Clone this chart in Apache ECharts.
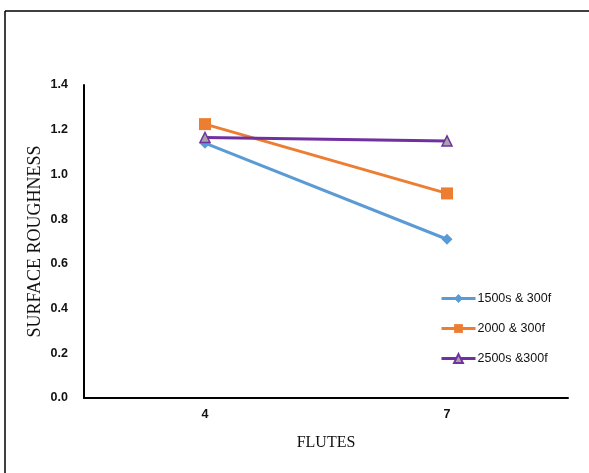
<!DOCTYPE html>
<html>
<head>
<meta charset="utf-8">
<script src="https://cdn.jsdelivr.net/npm/echarts@6/dist/echarts.min.js"></script>
<style>
  html, body { margin: 0; padding: 0; background: #fff; }
  #chart { width: 589px; height: 473px; }
</style>
</head>
<body>
<div id="chart"></div>
<script>
const flutes = ['4', '7']
const s1500 = [1.14, 0.71]
const s2000 = [1.225, 0.915]
const s2500 = [1.165, 1.15]
const yTicks = [0, 0.2, 0.4, 0.6, 0.8, 1.0, 1.2, 1.4]

const chart = echarts.init(document.getElementById('chart'))
const tickFont = { fontFamily: 'Liberation Sans Narrow, Liberation Sans, sans-serif', fontWeight: 'bold', fontSize: 12.5, color: '#111' }

chart.setOption({
  animation: false,
  graphic: [
    { type: 'line', shape: { x1: 5, y1: 11, x2: 589, y2: 11 }, style: { stroke: '#000', lineWidth: 1.5 } },
    { type: 'line', shape: { x1: 5, y1: 11, x2: 5, y2: 473 }, style: { stroke: '#000', lineWidth: 1.5 } }
  ],
  grid: { left: 84, right: 21, top: 85, bottom: 75 },
  legend: {
    orient: 'vertical',
    left: 440,
    top: 292,
    padding: 0,
    itemWidth: 34,
    itemHeight: 11,
    itemGap: 17,
    lineStyle: { width: 3 },
    textStyle: { fontFamily: 'Liberation Sans Narrow, Liberation Sans, sans-serif', fontSize: 12.5, color: '#111', padding: [0, 0, 0, -3] },
    data: ['1500s & 300f', '2000 & 300f', '2500s &300f']
  },
  xAxis: {
    type: 'category',
    data: flutes,
    name: 'FLUTES',
    nameLocation: 'middle',
    nameGap: 37,
    nameTextStyle: { fontFamily: 'Liberation Serif, serif', fontSize: 16, color: '#111' },
    axisLine: { lineStyle: { color: '#000', width: 2 } },
    axisTick: { show: false },
    axisLabel: Object.assign({ margin: 10 }, tickFont)
  },
  yAxis: {
    type: 'value',
    min: 0,
    max: 1.4,
    interval: 0.2,
    name: 'SURFACE ROUGHNESS',
    nameLocation: 'middle',
    nameGap: 40,
    nameMoveOverlap: false,
    nameTextStyle: { fontFamily: 'Liberation Serif, serif', fontSize: 18, color: '#111' },
    axisLine: { show: true, lineStyle: { color: '#000', width: 2 } },
    axisTick: { show: false },
    splitLine: { show: false },
    axisLabel: Object.assign({
      margin: 16,
      formatter: v => yTicks.includes(+v.toFixed(1)) ? v.toFixed(1) : ''
    }, tickFont)
  },
  series: [
    {
      name: '1500s & 300f',
      type: 'line',
      data: s1500,
      symbol: 'diamond',
      symbolSize: 11,
      lineStyle: { color: '#5b9bd5', width: 3 },
      itemStyle: { color: '#5b9bd5' }
    },
    {
      name: '2000 & 300f',
      type: 'line',
      data: s2000,
      symbol: 'rect',
      symbolSize: 12,
      lineStyle: { color: '#ed7d31', width: 3 },
      itemStyle: { color: '#ed7d31' }
    },
    {
      name: '2500s &300f',
      type: 'line',
      data: s2500,
      symbol: 'triangle',
      symbolSize: 10,
      lineStyle: { color: '#7030a0', width: 3 },
      itemStyle: { color: '#a5a5a5', borderColor: '#7030a0', borderWidth: 1.5 }
    }
  ]
})
</script>
</body>
</html>
